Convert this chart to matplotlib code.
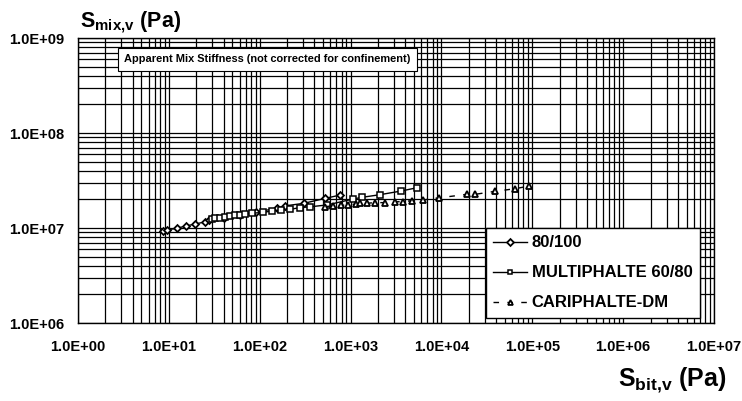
import matplotlib
matplotlib.use("Agg")
import matplotlib.pyplot as plt
from matplotlib.ticker import FixedLocator, LogLocator, FuncFormatter, NullFormatter

plt.rcParams['font.family'] = ['Liberation Sans', 'DejaVu Sans']
plt.rcParams['font.weight'] = 'bold'
plt.rcParams['mathtext.fontset'] = 'custom'
plt.rcParams['mathtext.rm'] = 'Liberation Sans:bold'
plt.rcParams['mathtext.bf'] = 'Liberation Sans:bold'

# 80/100 binder
s_bit_80100 = [8.7, 9.5, 12.2, 15.4, 19.4, 25.0, 27.9, 40, 60, 90, 154, 190, 307, 523, 765]
s_mix_80100 = [9.37e6, 9.53e6, 9.93e6, 1.05e7, 1.10e7, 1.16e7, 1.21e7, 1.29e7,
               1.38e7, 1.47e7, 1.61e7, 1.71e7, 1.82e7, 2.05e7, 2.22e7]

# MULTIPHALTE 60/80
s_bit_multi = [29.6, 32.2, 36.5, 41.4, 47.0, 53.4, 60.6, 68.8, 81.5, 109, 135, 173,
               215, 277, 355, 553, 1070, 1320, 2090, 3590, 5340]
s_mix_multi = [1.24e7, 1.27e7, 1.28e7, 1.31e7, 1.33e7, 1.36e7, 1.38e7, 1.40e7, 1.43e7,
               1.46e7, 1.51e7, 1.55e7, 1.57e7, 1.64e7, 1.67e7, 1.75e7, 2.02e7, 2.10e7,
               2.24e7, 2.45e7, 2.65e7]

# CARIPHALTE-DM
s_bit_cari = [522, 640, 780, 930, 1150, 1260, 1500, 1850, 2400, 3060, 3750, 4700,
              6240, 9420, 19100, 23300, 38600, 64300, 93000]
s_mix_cari = [1.68e7, 1.71e7, 1.73e7, 1.75e7, 1.79e7, 1.82e7, 1.82e7, 1.85e7, 1.85e7,
              1.89e7, 1.89e7, 1.94e7, 1.97e7, 2.08e7, 2.26e7, 2.26e7, 2.43e7, 2.59e7, 2.77e7]

x_ticks = [1e0, 1e1, 1e2, 1e3, 1e4, 1e5, 1e6, 1e7]
y_ticks = [1e6, 1e7, 1e8, 1e9]

fig = plt.figure(figsize=(7.42, 4.01), dpi=100, facecolor='white')
ax = fig.add_axes([0.1051, 0.1945, 0.8572, 0.7107])
ax.set_xscale('log')
ax.set_yscale('log')
ax.set_xlim(x_ticks[0], x_ticks[-1])
ax.set_ylim(y_ticks[0], y_ticks[-1])

# grille log complete
ax.xaxis.set_major_locator(FixedLocator(x_ticks))
ax.xaxis.set_minor_locator(LogLocator(base=10, subs=range(2, 10), numticks=100))
ax.yaxis.set_major_locator(FixedLocator(y_ticks))
ax.yaxis.set_minor_locator(LogLocator(base=10, subs=range(2, 10), numticks=100))
ax.grid(True, which='both', color='black', linewidth=0.9)
ax.set_axisbelow(True)

fmt = FuncFormatter(lambda v, p: f"{v:.1E}")
ax.xaxis.set_major_formatter(fmt)
ax.yaxis.set_major_formatter(fmt)
ax.xaxis.set_minor_formatter(NullFormatter())
ax.yaxis.set_minor_formatter(NullFormatter())
ax.tick_params(which='both', length=0)
ax.tick_params(axis='x', pad=12, labelsize=10.5)
ax.tick_params(axis='y', pad=10, labelsize=10.5)
for lab in ax.get_xticklabels() + ax.get_yticklabels():
    lab.set_fontweight('bold')
for sp in ax.spines.values():
    sp.set_color('black')
    sp.set_linewidth(1.0)

ax.plot(s_bit_80100, s_mix_80100, color='black', linewidth=1.0, marker='D',
        markersize=3.5, markerfacecolor='white', markeredgecolor='black',
        markeredgewidth=1.3, label='80/100', zorder=3)
ax.plot(s_bit_multi, s_mix_multi, color='black', linewidth=1.0, marker='s',
        markersize=5, markerfacecolor='white', markeredgecolor='black',
        markeredgewidth=1.1, label='MULTIPHALTE 60/80', zorder=3)
ax.plot(s_bit_cari, s_mix_cari, color='black', linewidth=1.0, linestyle=(0, (4, 6)),
        marker='^', markersize=5, markerfacecolor='white', markeredgecolor='black',
        markeredgewidth=1.3, label='CARIPHALTE-DM', zorder=3)

leg = ax.legend(loc='lower right', bbox_to_anchor=(0.978, 0.018), fancybox=False,
                edgecolor='black', framealpha=1, prop={'weight': 'bold', 'size': 12},
                handlelength=2.0, labelspacing=0.9, borderpad=0.45, handletextpad=0.3,
                borderaxespad=0)
leg.get_frame().set_linewidth(1.0)
for h in leg.legend_handles:
    h.set_markersize(3.5)

ax.text(0.073, 0.925, 'Apparent Mix Stiffness (not corrected for confinement)',
        transform=ax.transAxes, fontsize=7.9, fontweight='bold', va='center', ha='left',
        bbox=dict(boxstyle='square,pad=0.6', facecolor='white', edgecolor='black',
                  linewidth=0.8), zorder=4)

fig.text(0.108, 0.945, r'$\mathrm{S_{mix{,}v}}$ (Pa)', fontsize=15.5, fontweight='bold',
         ha='left', va='center')
fig.text(0.833, 0.052, r'$\mathrm{S_{bit{,}v}}$ (Pa)', fontsize=18, fontweight='bold',
         ha='left', va='center')

fig.savefig('out.png', dpi=100, facecolor='white')
